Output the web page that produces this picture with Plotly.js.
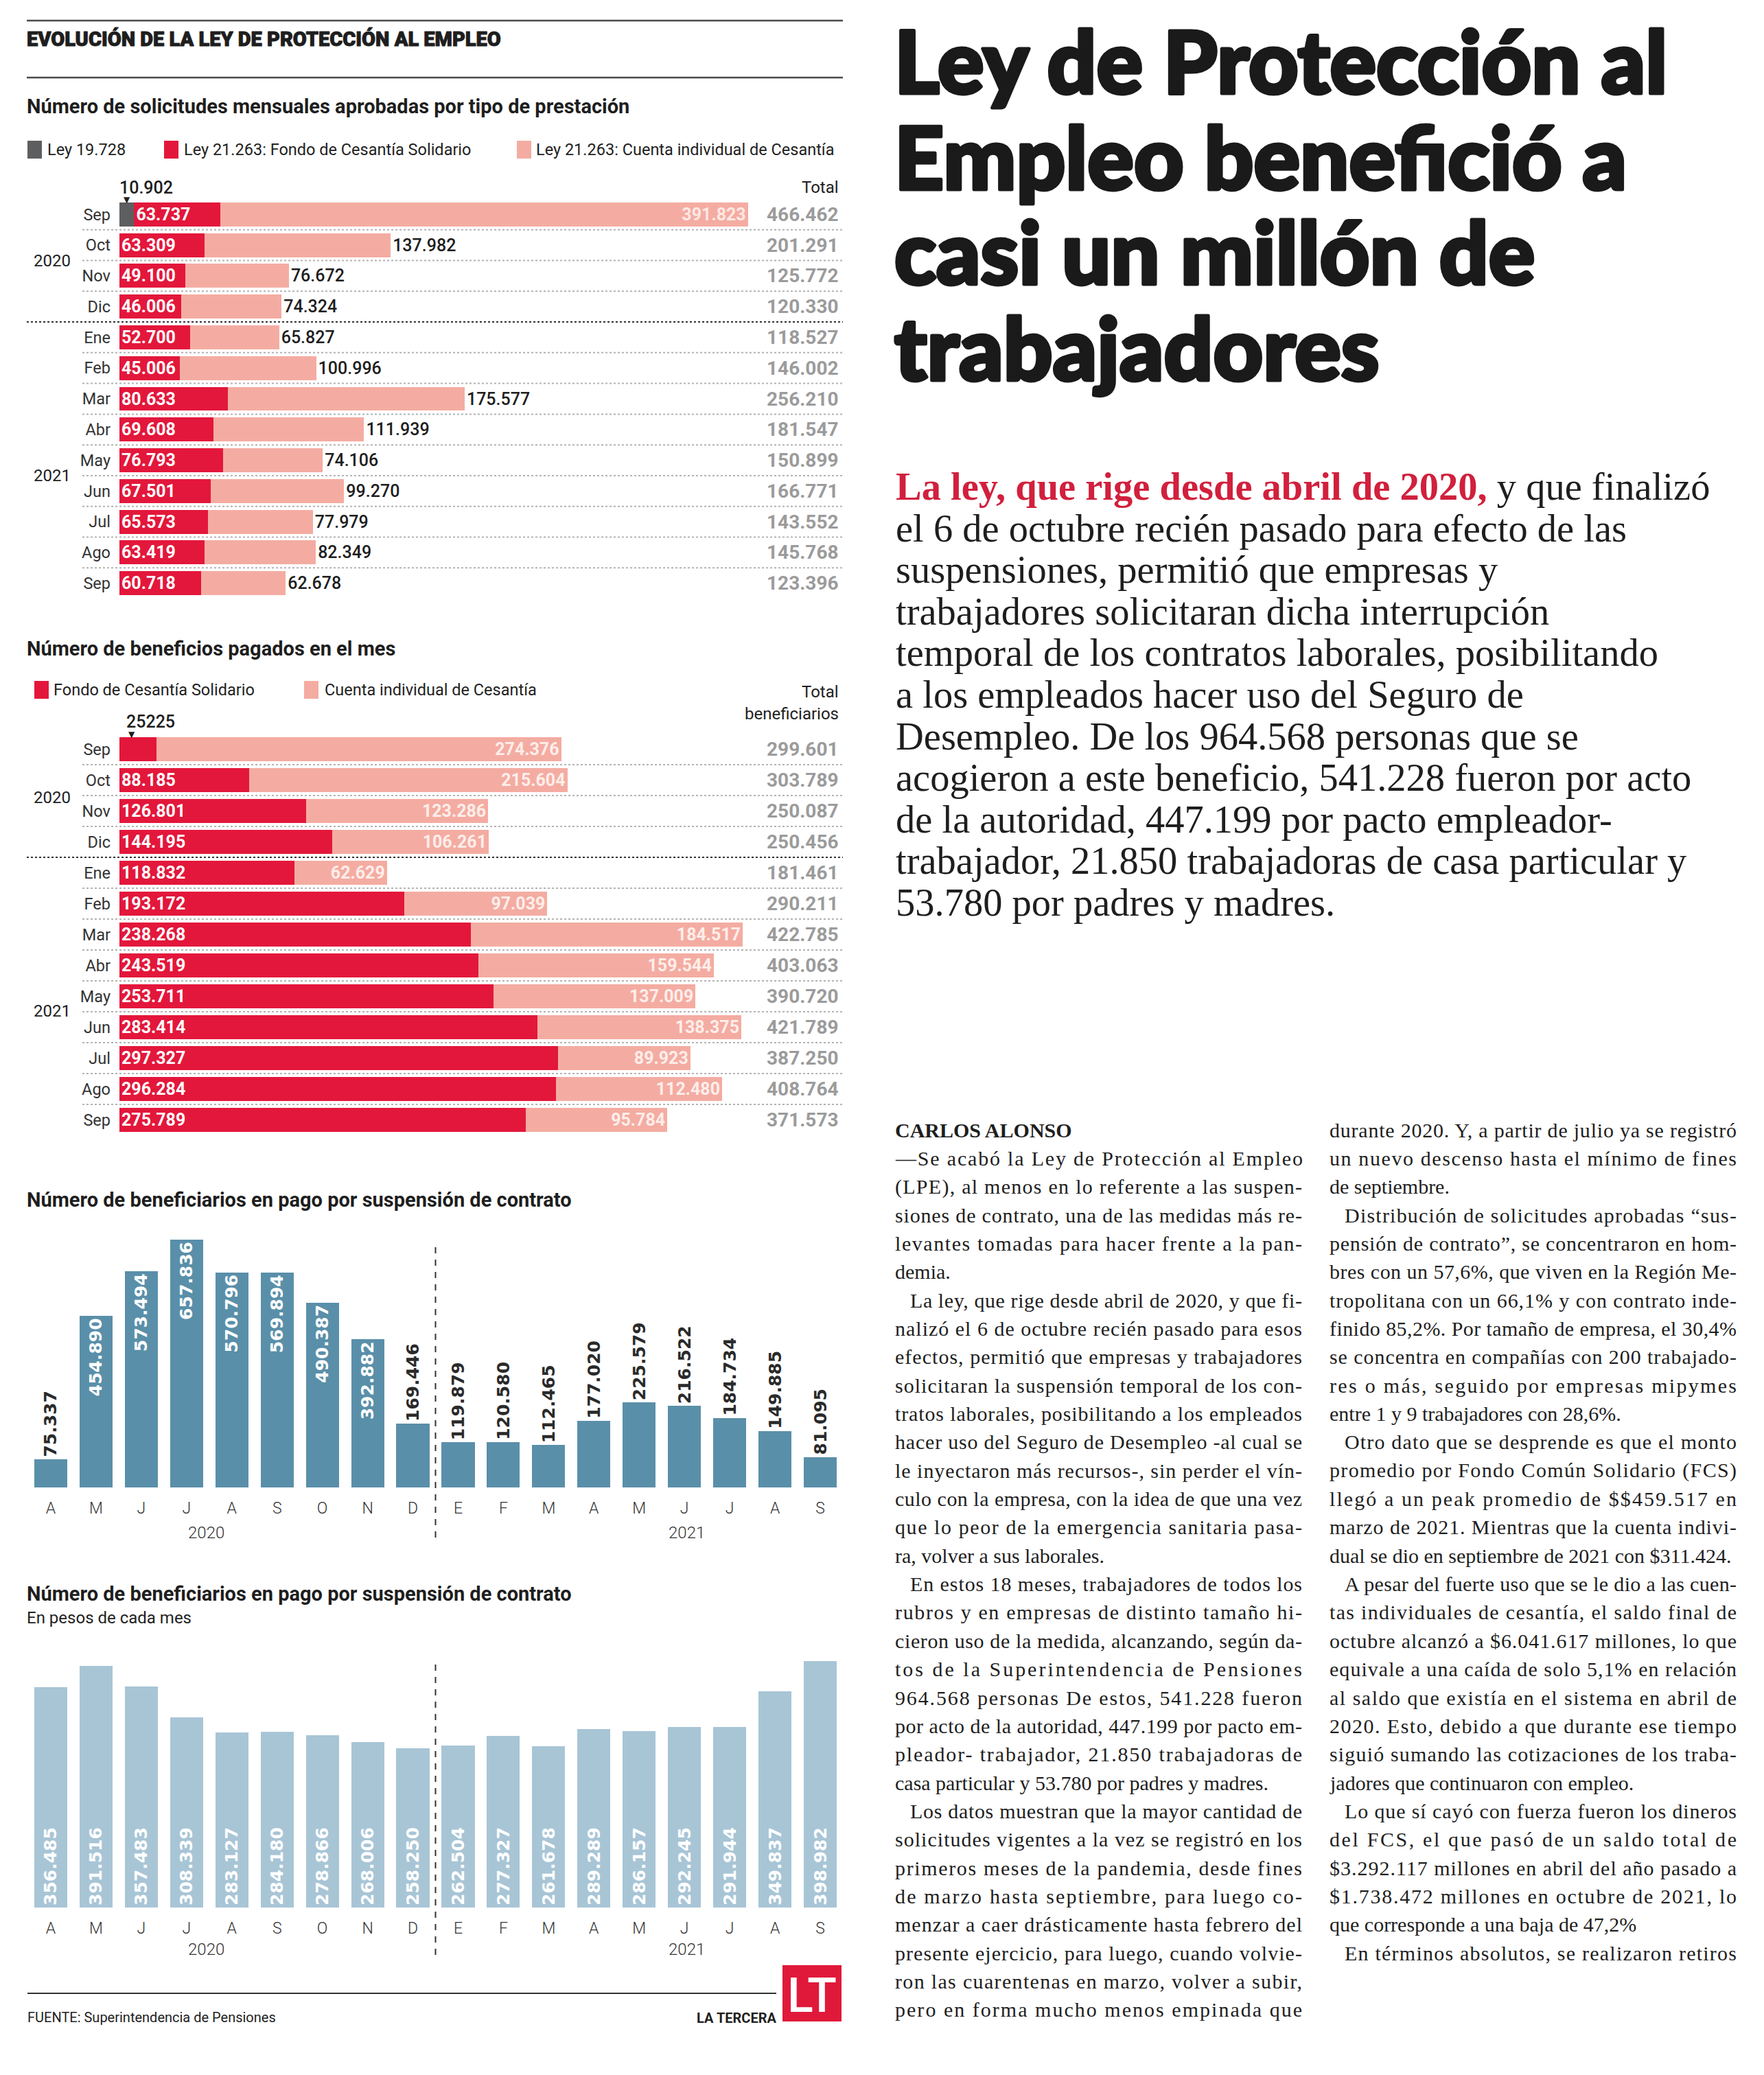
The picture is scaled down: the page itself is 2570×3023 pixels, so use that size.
<!DOCTYPE html>
<html>
<head>
<meta charset="utf-8">
<script src="https://cdn.plot.ly/plotly-3.0.1.min.js"></script>
<style>html,body{margin:0;padding:0;background:#fff;}</style>
</head>
<body>
<div id="chart" style="width:2570px;height:3023px;"></div>
<script>
// ---------------- DATA ----------------
// Chart 1: solicitudes mensuales aprobadas por tipo de prestación
const monthsA = ["Sep","Oct","Nov","Dic","Ene","Feb","Mar","Abr","May","Jun","Jul","Ago","Sep"];
const yearsA  = ["2020","2020","2020","2020","2021","2021","2021","2021","2021","2021","2021","2021","2021"];
const seriesNamesA = ["Ley 19.728", "Ley 21.263: Fondo de Cesantía Solidario", "Ley 21.263: Cuenta individual de Cesantía"];
const ley19728       = [10902,0,0,0,0,0,0,0,0,0,0,0,0];
const fcsSolicitudes = [63737,63309,49100,46006,52700,45006,80633,69608,76793,67501,65573,63419,60718];
const cicSolicitudes = [391823,137982,76672,74324,65827,100996,175577,111939,74106,99270,77979,82349,62678];

// Chart 2: beneficios pagados en el mes
const seriesNamesB = ["Fondo de Cesantía Solidario", "Cuenta individual de Cesantía"];
const fcsPagados = [25225,88185,126801,144195,118832,193172,238268,243519,253711,283414,297327,296284,275789];
const cicPagados = [274376,215604,123286,106261,62629,97039,184517,159544,137009,138375,89923,112480,95784];

// Charts 3 and 4
const monthsB = ["Abr","May","Jun","Jul","Ago","Sep","Oct","Nov","Dic","Ene","Feb","Mar","Abr","May","Jun","Jul","Ago","Sep"];
const yearsB  = ["2020","2020","2020","2020","2020","2020","2020","2020","2020","2021","2021","2021","2021","2021","2021","2021","2021","2021"];
const beneficiarios = [75337,454890,573494,657836,570796,569894,490387,392882,169446,119879,120580,112465,177020,225579,216522,184734,149885,81095];
const montoPromedio = [356485,391516,357483,308339,283127,284180,278866,268006,258250,262504,277327,261678,289289,286157,292245,291944,349837,398982];

// Texts
const headerText = "EVOLUCIÓN DE LA LEY DE PROTECCIÓN AL EMPLEO";
const title1 = "Número de solicitudes mensuales aprobadas por tipo de prestación";
const title2 = "Número de beneficios pagados en el mes";
const title3 = "Número de beneficiarios en pago por suspensión de contrato";
const title4 = "Número de beneficiarios en pago por suspensión de contrato";
const subtitle4 = "En pesos de cada mes";
const sourceText = "FUENTE: Superintendencia de Pensiones";
const headline = ["Ley de Protección al","Empleo benefició a","casi un millón de","trabajadores"];
const leadLines = [
 "<span style='color:#d1203d'><b>La ley, que rige desde abril de 2020,</b></span> y que finalizó",
 "el 6 de octubre recién pasado para efecto de las",
 "suspensiones, permitió que empresas y",
 "trabajadores solicitaran dicha interrupción",
 "temporal de los contratos laborales, posibilitando",
 "a los empleados hacer uso del Seguro de",
 "Desempleo. De los 964.568 personas que se",
 "acogieron a este beneficio, 541.228 fueron por acto",
 "de la autoridad, 447.199 por pacto empleador-",
 "trabajador, 21.850 trabajadoras de casa particular y",
 "53.780 por padres y madres."
];
// "|" = indented first line, "¶" = last line of paragraph
const bodyCol1 = [
 "<b>CARLOS ALONSO</b>¶",
 "—Se acabó la Ley de Protección al Empleo",
 "(LPE), al menos en lo referente a las suspen-",
 "siones de contrato, una de las medidas más re-",
 "levantes tomadas para hacer frente a la pan-",
 "demia.¶",
 "|La ley, que rige desde abril de 2020, y que fi-",
 "nalizó el 6 de octubre recién pasado para esos",
 "efectos, permitió que empresas y trabajadores",
 "solicitaran la suspensión temporal de los con-",
 "tratos laborales, posibilitando a los empleados",
 "hacer uso del Seguro de Desempleo -al cual se",
 "le inyectaron más recursos-, sin perder el vín-",
 "culo con la empresa, con la idea de que una vez",
 "que lo peor de la emergencia sanitaria pasa-",
 "ra, volver a sus laborales.¶",
 "|En estos 18 meses, trabajadores de todos los",
 "rubros y en empresas de distinto tamaño hi-",
 "cieron uso de la medida, alcanzando, según da-",
 "tos de la Superintendencia de Pensiones",
 "964.568 personas De estos, 541.228 fueron",
 "por acto de la autoridad, 447.199 por pacto em-",
 "pleador- trabajador, 21.850 trabajadoras de",
 "casa particular y 53.780 por padres y madres.¶",
 "|Los datos muestran que la mayor cantidad de",
 "solicitudes vigentes a la vez se registró en los",
 "primeros meses de la pandemia, desde fines",
 "de marzo hasta septiembre, para luego co-",
 "menzar a caer drásticamente hasta febrero del",
 "presente ejercicio, para luego, cuando volvie-",
 "ron las cuarentenas en marzo, volver a subir,",
 "pero en forma mucho menos empinada que"
];
const bodyCol2 = [
 "durante 2020. Y, a partir de julio ya se registró",
 "un nuevo descenso hasta el mínimo de fines",
 "de septiembre.¶",
 "|Distribución de solicitudes aprobadas “sus-",
 "pensión de contrato”, se concentraron en hom-",
 "bres con un 57,6%, que viven en la Región Me-",
 "tropolitana con un 66,1% y con contrato inde-",
 "finido 85,2%. Por tamaño de empresa, el 30,4%",
 "se concentra en compañías con 200 trabajado-",
 "res o más, seguido por empresas mipymes",
 "entre 1 y 9 trabajadores con 28,6%.¶",
 "|Otro dato que se desprende es que el monto",
 "promedio por Fondo Común Solidario (FCS)",
 "llegó a un peak promedio de $$459.517 en",
 "marzo de 2021. Mientras que la cuenta indivi-",
 "dual se dio en septiembre de 2021 con $311.424.¶",
 "|A pesar del fuerte uso que se le dio a las cuen-",
 "tas individuales de cesantía, el saldo final de",
 "octubre alcanzó a $6.041.617 millones, lo que",
 "equivale a una caída de solo 5,1% en relación",
 "al saldo que existía en el sistema en abril de",
 "2020. Esto, debido a que durante ese tiempo",
 "siguió sumando las cotizaciones de los traba-",
 "jadores que continuaron con empleo.¶",
 "|Lo que sí cayó con fuerza fueron los dineros",
 "del FCS, el que pasó de un saldo total de",
 "$3.292.117 millones en abril del año pasado a",
 "$1.738.472 millones en octubre de 2021, lo",
 "que corresponde a una baja de 47,2%¶",
 "|En términos absolutos, se realizaron retiros"
];

// ---------------- STYLE ----------------
const W = 2570, H = 3023;
const PX = v => v / W, PY = v => 1 - v / H;
const SANS = "Roboto, 'Liberation Sans', Arial, sans-serif";
const WIDE = "'DejaVu Sans', Verdana, sans-serif";
const SERIF = "'Liberation Serif', 'Times New Roman', serif";
const HEAD = "Lato, Roboto, sans-serif";
const RED = "#e3173b", PINK = "#f4aca2", GRAY = "#5d5e60", TOTC = "#9b9b9b";
const BLUE = "#5a8fa9", LBLUE = "#a8c5d6", INK = "#1e1e1e";
const F = (family, size, color, weight) => ({family, size, color, weight: weight || 400});
const fmt = v => String(v).replace(/\B(?=(\d{3})+(?!\d))/g, ".");

const annotations = [], shapes = [], justify = {}, heavy = {};
function T(x, y, text, font, o) {
  annotations.push(Object.assign({xref:'paper', yref:'paper', x:PX(x), y:PY(y), text, font,
    showarrow:false, xanchor:'left', yanchor:'middle', align:'left', borderpad:0, borderwidth:0}, o || {}));
  return annotations.length - 1;
}
function hline(x0, x1, y, color, width, dash) {
  shapes.push({type:'line', xref:'paper', yref:'paper', x0:PX(x0), x1:PX(x1), y0:PY(y), y1:PY(y),
    line:{color, width, dash: dash || 'solid'}});
}
function rect(x0, y0, x1, y1, color) {
  shapes.push({type:'rect', xref:'paper', yref:'paper', x0:PX(x0), x1:PX(x1), y0:PY(y1), y1:PY(y0),
    fillcolor:color, line:{width:0}});
}

// ---------------- HEADER ----------------
hline(39, 1228, 30, '#4a4a4a', 2.5);
heavy[T(39, 57, headerText, F(SANS, 29, INK, 900))] = 1;
hline(39, 1228, 113, '#4a4a4a', 2.5);

// ---------------- CHART 1 ----------------
const keysA = monthsA.map((m, i) => m + ' ' + yearsA[i]);
const traces = [];
traces.push({type:'bar', orientation:'h', x:ley19728, y:keysA, xaxis:'x', yaxis:'y', width:0.78,
  marker:{color:GRAY}, hoverinfo:'skip', textposition:'none'});
traces.push({type:'bar', orientation:'h', x:fcsSolicitudes, y:keysA, xaxis:'x', yaxis:'y', width:0.78,
  marker:{color:RED}, text:fcsSolicitudes.map(fmt), textposition:'inside', insidetextanchor:'start', textangle:0,
  insidetextfont:F(SANS, 25, '#ffffff', 700), cliponaxis:false});
traces.push({type:'bar', orientation:'h', x:cicSolicitudes, y:keysA, xaxis:'x', yaxis:'y', width:0.78,
  marker:{color:PINK}, text:cicSolicitudes.map(fmt), textangle:0,
  textposition:cicSolicitudes.map(v => v > 300000 ? 'inside' : 'outside'), insidetextanchor:'end',
  insidetextfont:F(SANS, 25, '#fde8e4', 700), outsidetextfont:F(SANS, 25, INK, 500), cliponaxis:false});

T(39, 155, title1, F(SANS, 29, INK, 700));
const legA = [[40, 61, GRAY, 69], [239, 260, RED, 268], [753, 774, PINK, 781]];
seriesNamesA.forEach((n, i) => { rect(legA[i][0], 205, legA[i][1], 231, legA[i][2]); T(legA[i][3], 218, n, F(SANS, 23.5, '#222')); });
T(1222, 273, 'Total', F(SANS, 24, '#222'), {xanchor:'right', align:'right'});
annotations.push({xref:'x', yref:'y', x:0, y:keysA[0], yshift:39, xanchor:'left', yanchor:'middle',
  text:fmt(ley19728[0]), font:F(SANS, 25, INK, 500), showarrow:false, borderpad:0, borderwidth:0});
annotations.push({xref:'x', yref:'y', x:ley19728[0] / 2, y:keysA[0], yshift:21, xanchor:'center', yanchor:'middle',
  text:'▼', font:F('DejaVu Sans', 12, INK), showarrow:false, borderpad:0, borderwidth:0});
keysA.forEach((k, i) => {
  annotations.push({xref:'paper', yref:'y', x:PX(1222), y:k, xanchor:'right', yanchor:'middle', showarrow:false,
    text:fmt(ley19728[i] + fcsSolicitudes[i] + cicSolicitudes[i]), font:F(SANS, 28, TOTC, 700), borderpad:0, borderwidth:0});
});
for (let i = 0; i < keysA.length - 1; i++) {
  const yb = yearsA[i] !== yearsA[i + 1];
  shapes.push({type:'line', xref:'paper', yref:'y', x0:PX(yb ? 39 : 120), x1:PX(1228), y0:i + 0.5, y1:i + 0.5,
    line:{color: yb ? '#333' : '#b3b3b3', width:2, dash:'dot'}});
}
const yearPos1 = [380, 693];
[...new Set(yearsA)].forEach((yr, j) => T(76, yearPos1[j], yr, F(SANS, 24, '#222'), {xanchor:'center', align:'center'}));

// ---------------- CHART 2 ----------------
traces.push({type:'bar', orientation:'h', x:fcsPagados, y:keysA, xaxis:'x2', yaxis:'y2', width:0.78,
  marker:{color:RED}, text:fcsPagados.map((v, i) => i === 0 ? '' : fmt(v)), textposition:'inside', insidetextanchor:'start', textangle:0,
  insidetextfont:F(SANS, 25, '#ffffff', 700), cliponaxis:false});
traces.push({type:'bar', orientation:'h', x:cicPagados, y:keysA, xaxis:'x2', yaxis:'y2', width:0.78,
  marker:{color:PINK}, text:cicPagados.map(fmt), textposition:'inside', insidetextanchor:'end', textangle:0,
  insidetextfont:F(SANS, 25, '#fdeeea', 700), cliponaxis:false});

T(39, 945, title2, F(SANS, 29, INK, 700));
const legB = [[50, 71, RED, 78], [443, 464, PINK, 473]];
seriesNamesB.forEach((n, i) => { rect(legB[i][0], 992, legB[i][1], 1018, legB[i][2]); T(legB[i][3], 1005, n, F(SANS, 23.5, '#222')); });
T(1222, 1008, 'Total', F(SANS, 24, '#222'), {xanchor:'right', align:'right'});
T(1222, 1040, 'beneficiarios', F(SANS, 24, '#222'), {xanchor:'right', align:'right'});
annotations.push({xref:'x2', yref:'y2', x:0, y:keysA[0], xshift:10, yshift:40, xanchor:'left', yanchor:'middle',
  text:String(fcsPagados[0]), font:F(SANS, 25, INK, 500), showarrow:false, borderpad:0, borderwidth:0});
annotations.push({xref:'x2', yref:'y2', x:0, y:keysA[0], xshift:18, yshift:22, xanchor:'center', yanchor:'middle',
  text:'▼', font:F('DejaVu Sans', 12, INK), showarrow:false, borderpad:0, borderwidth:0});
keysA.forEach((k, i) => {
  annotations.push({xref:'paper', yref:'y2', x:PX(1222), y:k, xanchor:'right', yanchor:'middle', showarrow:false,
    text:fmt(fcsPagados[i] + cicPagados[i]), font:F(SANS, 28, TOTC, 700), borderpad:0, borderwidth:0});
});
for (let i = 0; i < keysA.length - 1; i++) {
  const yb = yearsA[i] !== yearsA[i + 1];
  shapes.push({type:'line', xref:'paper', yref:'y2', x0:PX(yb ? 39 : 120), x1:PX(1228), y0:i + 0.5, y1:i + 0.5,
    line:{color: yb ? '#333' : '#b3b3b3', width:2, dash:'dot'}});
}
const yearPos2 = [1162, 1473];
[...new Set(yearsA)].forEach((yr, j) => T(76, yearPos2[j], yr, F(SANS, 24, '#222'), {xanchor:'center', align:'center'}));

// ---------------- CHART 3 ----------------
const keysB = monthsB.map((m, i) => m + ' ' + yearsB[i]);
const lettersB = monthsB.map(m => m[0]);
const split = yearsB.indexOf("2021") - 0.5;
traces.push({type:'bar', x:keysB, y:beneficiarios, xaxis:'x3', yaxis:'y3', width:0.73, marker:{color:BLUE},
  text:beneficiarios.map(fmt), textangle:-90, textposition:beneficiarios.map(v => v > 300000 ? 'inside' : 'outside'),
  insidetextanchor:'end', insidetextfont:F(WIDE, 25, '#ffffff', 700), outsidetextfont:F(WIDE, 25, '#2a2a2a', 700), cliponaxis:false});
T(39, 1748, title3, F(SANS, 29, INK, 700));
shapes.push({type:'line', xref:'x3', yref:'paper', x0:split, x1:split, y0:PY(2240), y1:PY(1808), line:{color:'#333', width:2, dash:'dash'}});
const yearX = [300, 1000];
[...new Set(yearsB)].forEach((yr, j) => T(yearX[j], 2233, yr, F(SANS, 24, '#333', 300), {xanchor:'center', align:'center'}));

// ---------------- CHART 4 ----------------
traces.push({type:'bar', x:keysB, y:montoPromedio, xaxis:'x4', yaxis:'y4', width:0.73, marker:{color:LBLUE},
  text:montoPromedio.map(fmt), textangle:-90, textposition:'inside', insidetextanchor:'start',
  insidetextfont:F(WIDE, 25, '#ffffff', 700), cliponaxis:false});
T(39, 2322, title4, F(SANS, 29, INK, 700));
T(39, 2357, subtitle4, F(SANS, 24, '#222'));
shapes.push({type:'line', xref:'x4', yref:'paper', x0:split, x1:split, y0:PY(2848), y1:PY(2418), line:{color:'#333', width:2, dash:'dash'}});
[...new Set(yearsB)].forEach((yr, j) => T(yearX[j], 2840, yr, F(SANS, 24, '#333', 300), {xanchor:'center', align:'center'}));

// ---------------- FOOTER ----------------
hline(40, 1131, 2904, '#333', 2);
T(40, 2939, sourceText, F(SANS, 20, '#222'));
T(1131, 2940, 'LA TERCERA', F(SANS, 20, INK, 700), {xanchor:'right', align:'right'});
rect(1140, 2863, 1226, 2945, '#e0193a');
T(1183, 2907, 'LT', F(SANS, 70, '#ffffff', 500), {xanchor:'center', align:'center'});

// ---------------- ARTICLE ----------------
headline.forEach((l, i) => { heavy[T(1303, 88 + i * 139, l, F(HEAD, 126, '#1a1a1a', 900))] = 5; });
leadLines.forEach((l, i) => T(1305, 709 + i * 60.6, l, F(SERIF, 56.5, '#1e1e1e')));
function bodyCol(lines, x0, width) {
  lines.forEach((raw, i) => {
    let s = raw, indent = 0, just = true;
    if (s.startsWith('|')) { s = s.slice(1); indent = 22; }
    if (s.endsWith('¶')) { s = s.slice(0, -1); just = false; }
    const idx = T(x0 + indent, 1646 + i * 41.35, s, F(SERIF, 30, '#1e1e1e'));
    if (just) justify[idx] = width - indent;
  });
}
bodyCol(bodyCol1, 1304, 593);
bodyCol(bodyCol2, 1937, 593);

// ---------------- LAYOUT ----------------
const catY = (keys) => ({type:'category', categoryarray:keys, range:[keys.length - 0.5, -0.5], tickvals:keys, ticktext:monthsA,
  showgrid:false, zeroline:false, showline:false, ticks:'', tickfont:F(SANS, 23.5, '#333'), ticklabelstandoff:12, fixedrange:true});
const catX = () => ({type:'category', categoryarray:keysB, range:[-0.5, keysB.length - 0.5], tickvals:keysB, ticktext:lettersB,
  showgrid:false, zeroline:false, showline:false, ticks:'', tickfont:F(SANS, 23, '#333', 300), ticklabelstandoff:14, fixedrange:true});

const layout = {
  width:W, height:H, margin:{l:0, r:0, t:0, b:0}, paper_bgcolor:'#ffffff', plot_bgcolor:'rgba(0,0,0,0)',
  separators:',.', barmode:'stack', showlegend:false, hovermode:false,
  uniformtext:{mode:'show', minsize:24},
  xaxis:{domain:[PX(174), PX(1228)], range:[0, 536933], visible:false, anchor:'y', fixedrange:true},
  yaxis:Object.assign(catY(keysA), {domain:[PY(872), PY(290)], anchor:'x'}),
  xaxis2:{domain:[PX(174), PX(1228)], range:[0, 490689], visible:false, anchor:'y2', fixedrange:true},
  yaxis2:Object.assign(catY(keysA), {domain:[PY(1654), PY(1069)], anchor:'x2'}),
  xaxis3:Object.assign(catX(), {domain:[PX(41), PX(1228)], anchor:'y3'}),
  yaxis3:{domain:[PY(2167), PY(1790)], range:[0, 687000], visible:false, anchor:'x3', fixedrange:true},
  xaxis4:Object.assign(catX(), {domain:[PX(41), PX(1228)], anchor:'y4'}),
  yaxis4:{domain:[PY(2779), PY(2400)], range:[0, 421216], visible:false, anchor:'x4', fixedrange:true},
  annotations, shapes
};

const gd = document.getElementById('chart');
Plotly.newPlot(gd, traces, layout, {staticPlot:true, displayModeBar:false}).then(() => {
  gd.querySelectorAll('g.annotation').forEach(g => {
    const idx = +g.getAttribute('data-index');
    const t = g.querySelector('text.annotation-text');
    if (!t) return;
    if (justify[idx]) {
      t.setAttribute('textLength', justify[idx]);
      t.setAttribute('lengthAdjust', 'spacing');
    }
    if (heavy[idx]) {
      t.style.stroke = t.style.fill || '#1a1a1a';
      t.style.strokeWidth = heavy[idx] + 'px';
      t.style.strokeLinejoin = 'round';
      t.style.paintOrder = 'stroke';
    }
  });
});
</script>
</body>
</html>
